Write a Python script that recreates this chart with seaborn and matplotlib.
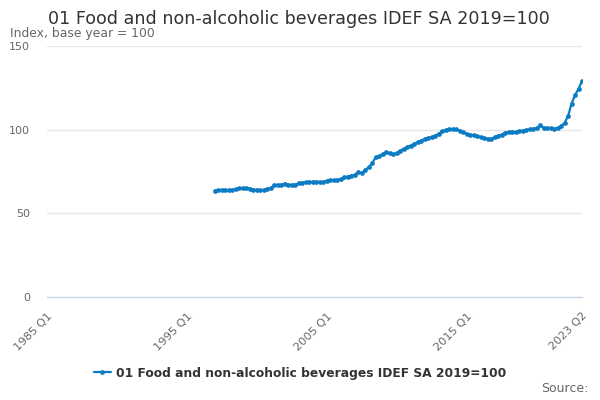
import numpy as np
import pandas as pd
import seaborn as sns
import matplotlib.pyplot as plt

series_name = "01 Food and non-alcoholic beverages IDEF SA 2019=100"

# quarterly values, 1997 Q1 .. 2023 Q2
values = [
    63.5, 63.8, 64.0, 63.8,
    63.7, 64.0, 64.5, 65.0,
    65.0, 65.2, 64.7, 64.2,
    64.0, 63.8, 64.0, 64.5,
    65.0, 67.0, 67.0, 67.0,
    67.8, 67.2, 67.0, 67.2,
    68.0, 68.3, 68.5, 68.8,
    68.8, 69.0, 68.7, 68.5,
    69.5, 69.8, 69.8, 70.0,
    70.5, 71.5, 72.0, 72.5,
    73.0, 74.5, 74.0, 76.0,
    77.5, 80.0, 83.5, 84.0,
    85.5, 86.5, 85.8, 85.3,
    86.0, 87.5, 88.5, 89.5,
    90.5, 91.5, 92.5, 93.5,
    94.5, 95.0, 95.5, 96.5,
    97.5, 99.0, 99.8, 100.2,
    100.3, 100.2, 99.5, 98.5,
    97.5, 97.0, 96.7, 96.2,
    95.5, 95.0, 94.5, 94.5,
    95.5, 96.5, 97.0, 98.2,
    98.5, 98.7, 98.5, 99.0,
    99.5, 99.8, 100.2, 100.5,
    101.0, 102.5, 101.2, 100.8,
    100.8, 100.6, 101.0, 102.0,
    104.0, 108.0, 115.5, 120.5,
    124.5, 129.0,
]

axis_start = (1985, 1)
axis_end = (2023, 2)
data_start = (1997, 1)
label_quarters = ["1985 Q1", "1995 Q1", "2005 Q1", "2015 Q1", "2023 Q2"]
y_ticks = [0, 50, 100, 150]


def qindex(year, q):
    return (year - axis_start[0]) * 4 + (q - axis_start[1])


def qlabel(i):
    return f"{axis_start[0] + i // 4} Q{i % 4 + 1}"


start = qindex(*data_start)
df = pd.DataFrame({"x": np.arange(start, start + len(values)), "value": values})
end = qindex(*axis_end)

sns.set_style("white")
plt.rcParams["font.family"] = ["DejaVu Sans"]

fig = plt.figure(figsize=(6, 4), dpi=100)
ax = fig.add_axes([0.0783, 0.2575, 0.97 - 0.0783, 0.885 - 0.2575])

blue = "#0b7cc4"
sns.lineplot(data=df, x="x", y="value", ax=ax, color=blue, linewidth=1.6,
             marker="o", markersize=3.4, markeredgewidth=0, label=series_name)

ax.set_xlim(0, end)
ax.set_ylim(0, 150)
ax.set_yticks(y_ticks)
ax.yaxis.grid(True, color="#e6e6e6", linewidth=1)
ax.set_axisbelow(True)

minor = list(range(0, end, 10)) + [end]
ax.set_xticks(minor)
labels_at = {i: qlabel(i) for i in range(0, end + 1) if qlabel(i) in label_quarters}
ax.set_xticklabels([labels_at.get(i, "") for i in minor], rotation=45,
                   ha="right", rotation_mode="anchor", color="#666666", fontsize=8.2)
ax.tick_params(axis="x", length=7, width=1, color="#ccd6eb", pad=3)
ax.tick_params(axis="y", length=0, labelcolor="#666666", labelsize=8, pad=12)

for s in ["top", "right", "left"]:
    ax.spines[s].set_visible(False)
ax.spines["bottom"].set_color("#ccd6eb")
ax.spines["bottom"].set_linewidth(1)

ax.set_xlabel("")
ax.set_ylabel("")

leg = ax.legend(loc="center", bbox_to_anchor=(0.5, 27 / 400), bbox_transform=fig.transFigure,
                frameon=False, fontsize=8.8, handlelength=1.4, handletextpad=0.45)
for t in leg.get_texts():
    t.set_color("#333333")
    t.set_fontweight("bold")

fig.text(298.5 / 600, 1 - 24 / 400, series_name, ha="center", va="baseline",
         fontsize=12.6, color="#333333")
fig.text(10 / 600, 1 - 36.7 / 400, "Index, base year = 100", ha="left", va="baseline",
         fontsize=8.9, color="#666666")
fig.text(588 / 600, 1 - 389 / 400, "Source:", ha="right", va="center",
         fontsize=9, color="#666666")

fig.savefig("out.png", dpi=100)
